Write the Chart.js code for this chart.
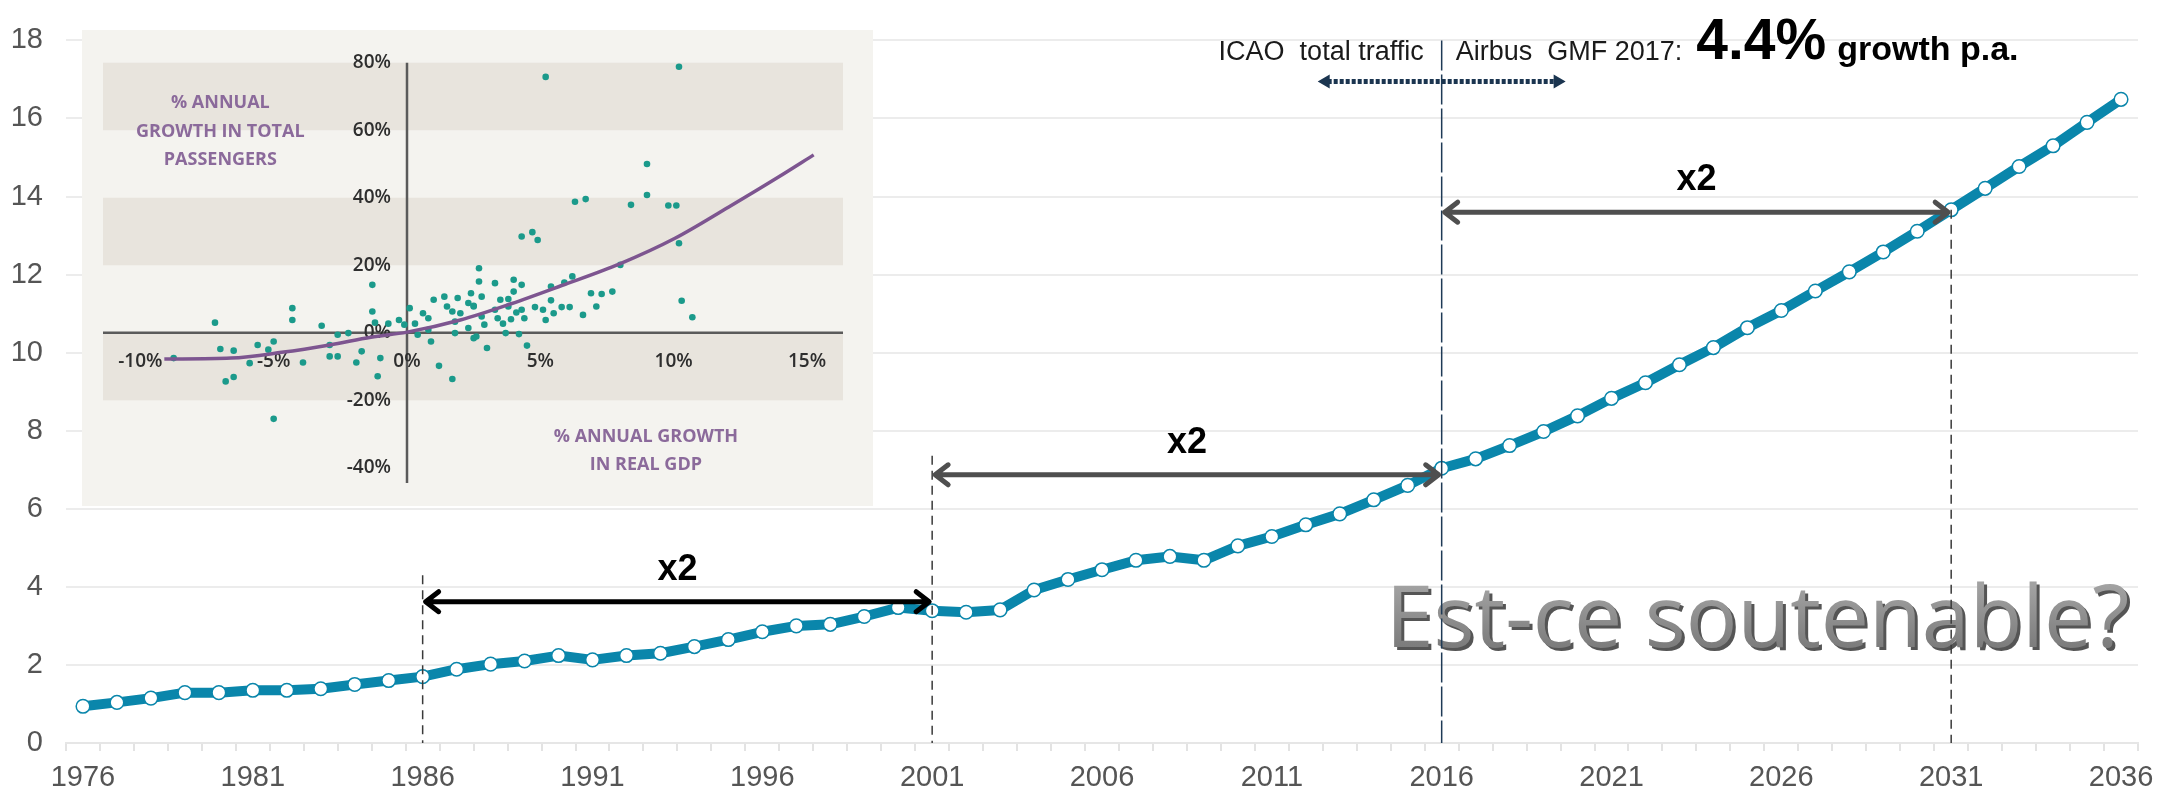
<!DOCTYPE html>
<html>
<head>
<meta charset="utf-8">
<script src="https://cdn.jsdelivr.net/npm/chart.js@4.4.1/dist/chart.umd.min.js"></script>
<style>
    html, body { margin: 0; padding: 0; background: #ffffff; }
    #wrap { position: relative; width: 2172px; height: 792px; }
    #inset { position: absolute; left: 82px; top: 30px; width: 791px; height: 476px; background: #f4f3ef; }
</style>
</head>
<body>
<div id="wrap">
    <canvas id="myChart"></canvas>
    <div id="inset"><canvas id="insetChart"></canvas></div>
</div>
<script>
// --- grafico principal: trafico aereo (ICAO + Airbus GMF 2017) ---
const anios = ['1976','1977','1978','1979','1980','1981','1982','1983','1984','1985',
               '1986','1987','1988','1989','1990','1991','1992','1993','1994','1995',
               '1996','1997','1998','1999','2000','2001','2002','2003','2004','2005',
               '2006','2007','2008','2009','2010','2011','2012','2013','2014','2015',
               '2016','2017','2018','2019','2020','2021','2022','2023','2024','2025',
               '2026','2027','2028','2029','2030','2031','2032','2033','2034','2035','2036'];

const trafico = [0.94, 1.04, 1.15, 1.29, 1.29, 1.35, 1.35, 1.39, 1.50, 1.60,
                 1.70, 1.89, 2.02, 2.10, 2.24, 2.13, 2.24, 2.30, 2.47, 2.65,
                 2.85, 3.00, 3.04, 3.24, 3.47, 3.39, 3.35, 3.41, 3.92, 4.19,
                 4.44, 4.68, 4.78, 4.68, 5.05, 5.29, 5.59, 5.87, 6.23, 6.60,
                 7.04, 7.28, 7.62, 7.98, 8.38, 8.83, 9.23, 9.69, 10.13, 10.64,
                 11.08, 11.58, 12.07, 12.58, 13.11, 13.66, 14.21, 14.77, 15.30, 15.90, 16.49];

// flechas "x2"
const flechaDesde = ['1986', '2001', '2016'];
const flechaHasta = ['2001', '2016', '2031'];
const flechaNivel = [3.62, 6.87, 13.6];

// lineas verticales punteadas
const guiaAnios = ['1986', '2001', '2031'];
const guiaTope = [4.3, 7.36, 13.66];

// --- grafico insertado: PIB vs pasajeros ---
const pibCrec = [-7.2, -8.75, -7.0, -6.5, -6.8, -6.5, -5.9, -5.6, -5.2, -5.0, -5.0, -4.3, -4.3, -3.9, -3.2,
                 -2.9, -2.9, -2.6, -2.6, -2.2, -1.9, -1.7, -1.3, -1.3, -1.2, -1.1, -1.0, -0.7, -0.3, -0.1,
                 0.1, 0.3, 0.4, 0.6, 0.8, 0.8, 0.9, 1.0, 1.2, 1.4, 1.5, 1.7, 1.7, 1.8, 1.8,
                 1.9, 2.0, 2.3, 2.3, 2.4, 2.5, 2.6, 2.7, 2.7, 2.8, 2.8, 3.0, 3.3,
                 5.2, 10.2, 9.0, 9.0, 8.4, 6.3, 6.7, 9.8, 10.1, 10.2, 4.3, 4.7, 4.9, 8.0, 4.0, 4.3,
                 4.0, 3.5, 3.8, 3.8, 3.3, 3.4, 3.6, 3.7, 4.1, 4.3, 4.4, 4.2, 4.5, 3.9, 2.9, 2.5,
                 4.8, 5.1, 5.2, 5.4, 5.5, 5.4, 5.8, 5.9, 6.1, 6.2, 6.6, 6.9, 7.1, 7.3, 7.7, 10.3, 10.7, 2.5];
const paxCrec = [3.0, -7.5, -4.8, -5.3, -14.4, -13.1, -9.0, -3.6, -5.0, -2.6, -25.5, 7.3, 3.8, -8.8, 2.1,
                 -3.6, -7.0, -0.6, -7.0, -0.1, -8.8, -5.5, 14.2, 6.3, 3.0, -12.9, -7.5, 2.7, 3.8, 2.4,
                 7.3, 2.7, -0.6, 5.8, 4.3, 0.9, -2.6, 9.8, -9.8, 10.7, 7.8, -13.7, 6.3, -0.1, 3.3,
                 10.3, 5.8, 8.8, 1.4, 11.7, 7.8, -1.1, 19.1, 15.2, 10.7, 4.8, -4.5, 14.7,
                 75.8, 78.8, 50.0, 40.8, 37.9, 38.8, 39.6, 37.7, 37.7, 26.5, 28.5, 29.8, 27.5, 20.1, 15.7, 14.2,
                 12.2, 9.8, 10.0, 7.8, 6.8, 4.3, 2.7, -0.1, 6.0, 6.8, 4.3, -0.4, -3.8, 4.0, 2.4, -1.6,
                 7.6, 6.8, 3.8, 9.6, 5.8, 13.7, 7.6, 14.9, 7.6, 16.7, 5.3, 11.7, 7.8, 11.5, 12.2, 9.5, 4.6, 8.0];

const curvaPib = [-9.1, -6.6, -4.7, -2.9, -1.35, 0, 2.0, 3.9, 5.8, 8.0, 10.05, 12.05, 13.9, 15.25];
const curvaPax = [-7.8, -7.5, -5.8, -3.6, -1.3, 0.2, 3.8, 8.6, 14.0, 20.5, 28.0, 37.2, 46.0, 52.7];

const ticksPax = [80, 60, 40, 20, 0, -20, -40];
const ticksPib = [-10, -5, 0, 5, 10, 15];
const bandas = [[60, 80], [20, 40], [-20, 0]];

const AZUL = '#0a86ab';

function flecha(ctx, x1, x2, yy, color) {
    ctx.strokeStyle = color;
    ctx.lineWidth = 5;
    ctx.lineCap = 'round';
    ctx.lineJoin = 'round';
    ctx.setLineDash([]);
    ctx.beginPath();
    ctx.moveTo(x1 + 4, yy); ctx.lineTo(x2 - 4, yy);
    ctx.moveTo(x1 + 16, yy - 10); ctx.lineTo(x1 + 3, yy); ctx.lineTo(x1 + 16, yy + 10);
    ctx.moveTo(x2 - 16, yy - 10); ctx.lineTo(x2 - 3, yy); ctx.lineTo(x2 - 16, yy + 10);
    ctx.stroke();
}

const anotaciones = {
    id: 'anotaciones',
    afterDatasetsDraw(chart) {
        const { ctx, scales: { x, y } } = chart;
        const px = anio => x.getPixelForValue(anios.indexOf(anio));
        ctx.save();

        // texto grande
        const texto = 'Est-ce soutenable?';
        ctx.font = '86px "Open Sans"';
        ctx.textAlign = 'center';
        ctx.textBaseline = 'alphabetic';
        const cx = x.getPixelForValue(49.3), by = y.getPixelForValue(2.46);
        ctx.fillStyle = '#555555';
        ctx.fillText(texto, cx + 3, by + 3);
        const grad = ctx.createLinearGradient(0, by - 62, 0, by);
        grad.addColorStop(0, '#a2a2a2');
        grad.addColorStop(1, '#7c7c7c');
        ctx.fillStyle = grad;
        ctx.fillText(texto, cx, by);

        // lineas verticales
        ctx.lineWidth = 1.5;
        ctx.strokeStyle = '#3a3a3a';
        ctx.setLineDash([9, 6]);
        guiaAnios.forEach((a, i) => {
            ctx.beginPath();
            ctx.moveTo(px(a), y.getPixelForValue(guiaTope[i]));
            ctx.lineTo(px(a), y.getPixelForValue(0));
            ctx.stroke();
        });
        ctx.strokeStyle = '#1e3a56';
        ctx.setLineDash([30, 4]);
        ctx.beginPath();
        ctx.moveTo(px('2016'), y.getPixelForValue(18));
        ctx.lineTo(px('2016'), y.getPixelForValue(0));
        ctx.stroke();

        // flechas x2
        flechaDesde.forEach((a, i) => {
            const yy = y.getPixelForValue(flechaNivel[i]);
            flecha(ctx, px(a), px(flechaHasta[i]), yy, i === 0 ? '#000000' : '#4f4f4f');
            ctx.fillStyle = '#000000';
            ctx.font = 'bold 36px "Liberation Sans"';
            ctx.textAlign = 'center';
            ctx.textBaseline = 'middle';
            ctx.fillText('x2', (px(a) + px(flechaHasta[i])) / 2, yy - 32);
        });

        // textos de arriba
        const x16 = px('2016');
        const base = y.getPixelForValue(17.5);
        ctx.fillStyle = '#1a1a1a';
        ctx.textBaseline = 'alphabetic';
        ctx.font = '27px "Liberation Sans"';
        ctx.textAlign = 'right';
        ctx.fillText('ICAO  total traffic', x16 - 18, base);
        ctx.textAlign = 'left';
        let xt = x16 + 14;
        ctx.fillText('Airbus  GMF 2017:', xt, base);
        xt += ctx.measureText('Airbus  GMF 2017:').width + 14;
        ctx.font = 'bold 57px "Liberation Sans"';
        ctx.fillStyle = '#000000';
        ctx.fillText('4.4%', xt, base - 1);
        xt += ctx.measureText('4.4%').width + 11;
        ctx.font = 'bold 34px "Liberation Sans"';
        ctx.fillText('growth p.a.', xt, base);

        // flecha punteada
        const ya = y.getPixelForValue(16.95);
        const xa = x.getPixelForValue(36.35), xb = x.getPixelForValue(43.65);
        ctx.strokeStyle = '#1b3550';
        ctx.fillStyle = '#1b3550';
        ctx.lineWidth = 5;
        ctx.lineCap = 'butt';
        ctx.setLineDash([4, 2]);
        ctx.beginPath();
        ctx.moveTo(xa + 10, ya); ctx.lineTo(xb - 10, ya);
        ctx.stroke();
        ctx.setLineDash([]);
        ctx.beginPath();
        ctx.moveTo(xa, ya); ctx.lineTo(xa + 12, ya - 7); ctx.lineTo(xa + 12, ya + 7); ctx.closePath();
        ctx.moveTo(xb, ya); ctx.lineTo(xb - 12, ya - 7); ctx.lineTo(xb - 12, ya + 7); ctx.closePath();
        ctx.fill();

        ctx.restore();
    }
};

const fuenteEje = { family: '"Liberation Sans"', size: 29 };

new Chart(document.getElementById('myChart'), {
    type: 'line',
    data: {
        labels: anios,
        datasets: [{
            data: trafico,
            borderColor: AZUL,
            borderWidth: 10,
            borderJoinStyle: 'round',
            fill: false,
            tension: 0,
            pointRadius: 6.8,
            pointBorderWidth: 1.5,
            pointBackgroundColor: '#ffffff',
            pointBorderColor: AZUL
        }]
    },
    options: {
        responsive: true,
        maintainAspectRatio: false,
        animation: false,
        layout: { padding: { top: 38, right: 34, left: 0, bottom: 0 } },
        plugins: { legend: { display: false }, tooltip: { enabled: false } },
        scales: {
            x: {
                offset: true,
                grid: { offset: true, drawOnChartArea: false, drawTicks: true, tickLength: 8, color: '#e3e3e3', lineWidth: 2 },
                border: { display: true, color: '#e6e6e6', width: 2 },
                ticks: {
                    autoSkip: false, maxRotation: 0, minRotation: 0, padding: 10,
                    color: '#555555', font: fuenteEje,
                    callback: (v, i) => (i % 5 === 0 ? anios[i] : '')
                },
                afterFit: s => { s.height = 49; }
            },
            y: {
                min: 0, max: 18,
                ticks: { stepSize: 2, padding: 23, color: '#555555', font: fuenteEje },
                grid: { color: '#ececec', lineWidth: 2, drawTicks: false },
                border: { display: false },
                afterFit: s => { s.width = 66; }
            }
        }
    },
    plugins: [anotaciones]
});

// --- inserto ---
const fondoInset = {
    id: 'fondoInset',
    beforeDatasetsDraw(chart) {
        const { ctx, chartArea: a, scales: { x, y } } = chart;
        ctx.save();
        ctx.fillStyle = '#e8e4dd';
        bandas.forEach(([lo, hi]) => {
            const t = y.getPixelForValue(hi), b = y.getPixelForValue(lo);
            ctx.fillRect(a.left, t, a.right - a.left, b - t);
        });
        const x0 = x.getPixelForValue(0), y0 = y.getPixelForValue(0);
        ctx.strokeStyle = '#5a5a5a';
        ctx.lineWidth = 2.5;
        ctx.beginPath();
        ctx.moveTo(a.left, y0); ctx.lineTo(a.right, y0);
        ctx.moveTo(x0, a.top); ctx.lineTo(x0, a.bottom);
        ctx.stroke();

        ctx.fillStyle = '#2e2e2e';
        ctx.font = '600 19px "Open Sans"';
        ctx.textBaseline = 'middle';
        ctx.textAlign = 'right';
        ticksPax.forEach(v => ctx.fillText(v + '%', x0 - 16, y.getPixelForValue(v)));
        ctx.textAlign = 'center';
        ticksPib.forEach(v => ctx.fillText(v + '%', x.getPixelForValue(v), y0 + 29));

        ctx.fillStyle = '#8b6a9b';
        ctx.font = 'bold 18px "Open Sans"';
        const t1 = ['% ANNUAL', 'GROWTH IN TOTAL', 'PASSENGERS'];
        const t1y = [68, 59.5, 51.2];
        t1.forEach((t, i) => ctx.fillText(t, x.getPixelForValue(-7), y.getPixelForValue(t1y[i])));
        const t2 = ['% ANNUAL GROWTH', 'IN REAL GDP'];
        const t2y = [-30.8, -39.1];
        t2.forEach((t, i) => ctx.fillText(t, x.getPixelForValue(8.96), y.getPixelForValue(t2y[i])));
        ctx.restore();
    }
};

new Chart(document.getElementById('insetChart'), {
    type: 'scatter',
    data: {
        datasets: [{
            data: curvaPib.map((g, i) => ({ x: g, y: curvaPax[i] })),
            showLine: true,
            borderColor: '#7d5590',
            borderWidth: 3.5,
            pointRadius: 0,
            cubicInterpolationMode: 'monotone',
            order: 0
        }, {
            data: pibCrec.map((g, i) => ({ x: g, y: paxCrec[i] })),
            pointRadius: 3.3,
            pointBorderWidth: 0,
            pointBackgroundColor: '#1b9a8b',
            order: 1
        }]
    },
    options: {
        responsive: true,
        maintainAspectRatio: false,
        animation: false,
        layout: { padding: { left: 21, right: 30, top: 32.7, bottom: 23 } },
        plugins: { legend: { display: false }, tooltip: { enabled: false } },
        scales: {
            x: { type: 'linear', min: -11.4, max: 16.35, display: false },
            y: { type: 'linear', min: -44.5, max: 80, display: false }
        }
    },
    plugins: [fondoInset]
});
</script>
</body>
</html>
